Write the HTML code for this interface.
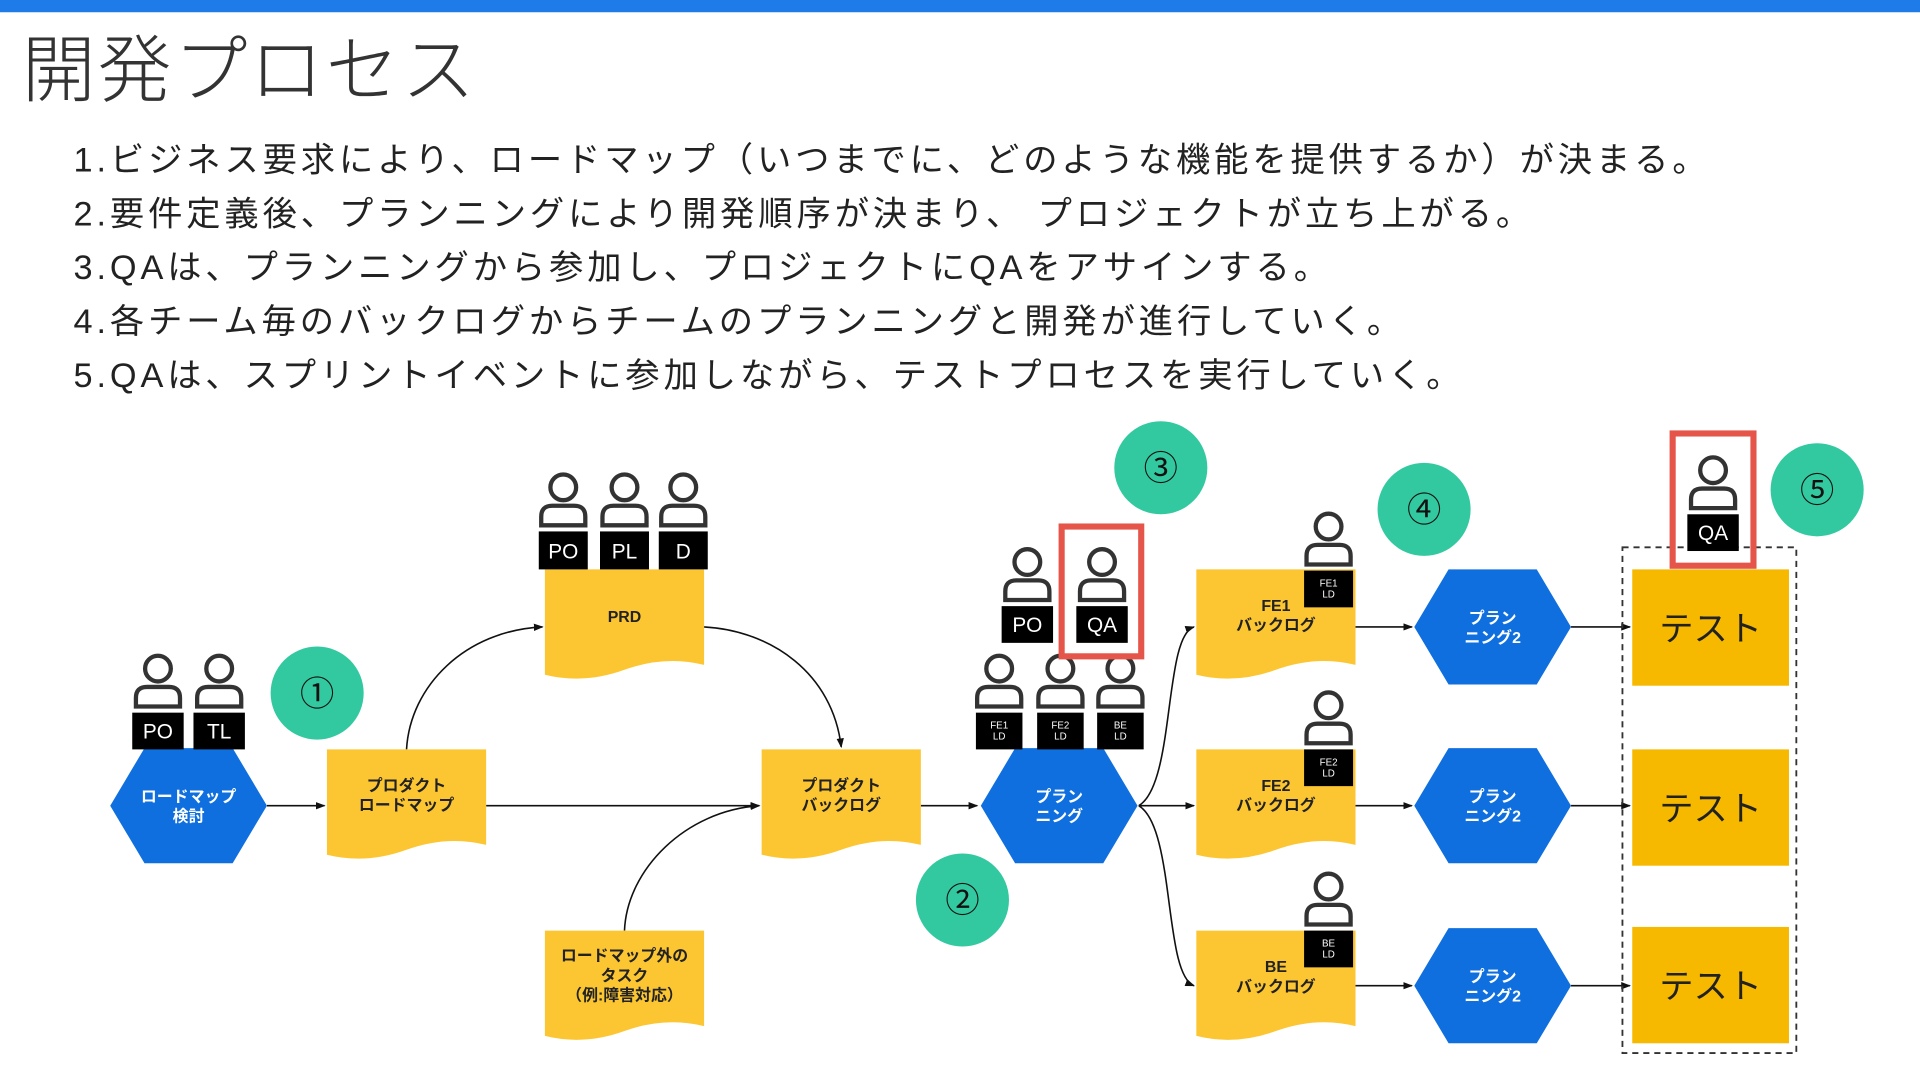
<!DOCTYPE html>
<html><head><meta charset="utf-8"><style>
html,body{margin:0;padding:0;background:#fff;width:1920px;height:1080px;overflow:hidden}
svg{display:block}
text{font-family:"Liberation Sans","Noto Sans CJK JP",sans-serif}
</style></head><body>
<svg width="1920" height="1080" viewBox="0 0 1568 882" xmlns="http://www.w3.org/2000/svg">
<defs>
<marker id="ar" markerWidth="8" markerHeight="8" refX="7" refY="4" orient="auto" markerUnits="userSpaceOnUse"><path d="M0,1 L8,4 L0,7 z" fill="#111"/></marker>
<g id="person"><circle cx="0" cy="-36" r="10.5" fill="none" stroke="#333" stroke-width="3.5"/><path d="M-18,-5 L-18,-12 Q-18,-21 -9,-21 L9,-21 Q18,-21 18,-12 L18,-5 Z" fill="none" stroke="#333" stroke-width="3.5"/></g>
<g id="hex"><polygon points="-64,0 -36,-47 36,-47 64,0 36,47 -36,47" fill="#0f6fdf"/></g>
<g id="doc"><path d="M0,0 H130 V78 Q98,70 65,82 Q32,94 0,86 Z" fill="#fcc633"/></g>
</defs>
<rect x="0" y="0" width="1568" height="10" fill="#1e7be8"/>
<text x="18" y="78" font-size="60" fill="#333" font-weight="300" letter-spacing="2">開発プロセス</text>
<g font-size="28" fill="#222" letter-spacing="3.2">
<text x="60" y="140">1.ビジネス要求により、ロードマップ（いつまでに、どのような機能を提供するか）が決まる。</text>
<text x="60" y="184">2.要件定義後、プランニングにより開発順序が決まり、 プロジェクトが立ち上がる。</text>
<text x="60" y="228">3.QAは、プランニングから参加し、プロジェクトにQAをアサインする。</text>
<text x="60" y="272">4.各チーム毎のバックログからチームのプランニングと開発が進行していく。</text>
<text x="60" y="316">5.QAは、スプリントイベントに参加しながら、テストプロセスを実行していく。</text>
</g>
<g fill="none" stroke="#111" stroke-width="1.3" marker-end="url(#ar)">
<line x1="218" y1="658" x2="265" y2="658"/>
<line x1="397" y1="658" x2="620" y2="658"/>
<path d="M332,612 C335,560 380,515 443,512"/>
<path d="M575,512 C630,515 680,550 687,610"/>
<path d="M510,760 C512,710 560,662 620,658"/>
<line x1="752" y1="658" x2="798" y2="658"/>
<path d="M930,658 C960,640 950,520 975,512"/>
<line x1="930" y1="658" x2="975" y2="658"/>
<path d="M930,658 C960,676 950,795 975,805"/>
<line x1="1107" y1="512" x2="1153" y2="512"/>
<line x1="1107" y1="658" x2="1153" y2="658"/>
<line x1="1107" y1="805" x2="1153" y2="805"/>
<line x1="1283" y1="512" x2="1331" y2="512"/>
<line x1="1283" y1="658" x2="1331" y2="658"/>
<line x1="1283" y1="805" x2="1331" y2="805"/>
</g>
<use href="#hex" x="154" y="658"/>
<use href="#hex" x="865" y="658"/>
<use href="#hex" x="1219" y="512"/>
<use href="#hex" x="1219" y="658"/>
<use href="#hex" x="1219" y="805"/>
<g fill="#fff" font-size="13" text-anchor="middle" font-weight="bold">
<text x="154" y="655">ロードマップ</text><text x="154" y="671">検討</text>
<text x="865" y="655">プラン</text><text x="865" y="671">ニング</text>
<text x="1219" y="509">プラン</text><text x="1219" y="525">ニング2</text>
<text x="1219" y="655">プラン</text><text x="1219" y="671">ニング2</text>
<text x="1219" y="802">プラン</text><text x="1219" y="818">ニング2</text>
</g>
<use href="#doc" x="267" y="612"/>
<use href="#doc" x="445" y="465"/>
<use href="#doc" x="622" y="612"/>
<use href="#doc" x="445" y="760"/>
<use href="#doc" x="977" y="465"/>
<use href="#doc" x="977" y="612"/>
<use href="#doc" x="977" y="760"/>
<g fill="#222" font-size="13" text-anchor="middle" font-weight="bold">
<text x="332" y="646">プロダクト</text><text x="332" y="662">ロードマップ</text>
<text x="510" y="508">PRD</text>
<text x="687" y="646">プロダクト</text><text x="687" y="662">バックログ</text>
<text x="510" y="785">ロードマップ外の</text><text x="510" y="801">タスク</text><text x="510" y="817">（例:障害対応）</text>
<text x="1042" y="499">FE1</text><text x="1042" y="515">バックログ</text>
<text x="1042" y="646">FE2</text><text x="1042" y="662">バックログ</text>
<text x="1042" y="794">BE</text><text x="1042" y="810">バックログ</text>
</g>
<rect x="1325" y="447" width="142" height="413" fill="none" stroke="#333" stroke-width="1.5" stroke-dasharray="5,4"/>
<g fill="#f7b900"><rect x="1333" y="465" width="128" height="95"/><rect x="1333" y="612" width="128" height="95"/><rect x="1333" y="757" width="128" height="95"/></g>
<g fill="#222" font-size="28" text-anchor="middle"><text x="1397" y="523">テスト</text><text x="1397" y="670">テスト</text><text x="1397" y="815">テスト</text></g>
<g>
<use href="#person" x="129" y="582"/><use href="#person" x="179" y="582"/>
<rect x="108" y="582" width="42" height="30" fill="#000"/><rect x="158" y="582" width="42" height="30" fill="#000"/>
<use href="#person" x="460" y="434"/><use href="#person" x="510" y="434"/><use href="#person" x="558" y="434"/>
<rect x="440" y="434" width="40" height="31" fill="#000"/><rect x="490" y="434" width="40" height="31" fill="#000"/><rect x="538" y="434" width="40" height="31" fill="#000"/>
<use href="#person" x="839" y="495"/><use href="#person" x="900" y="495"/>
<rect x="818" y="495" width="42" height="30" fill="#000"/><rect x="879" y="495" width="42" height="30" fill="#000"/>
<use href="#person" x="816" y="582"/><use href="#person" x="866" y="582"/><use href="#person" x="915" y="582"/>
<rect x="797" y="582" width="38" height="30" fill="#000"/><rect x="847" y="582" width="38" height="30" fill="#000"/><rect x="896" y="582" width="38" height="30" fill="#000"/>
<use href="#person" x="1085" y="466"/><rect x="1065" y="466" width="40" height="30" fill="#000"/>
<use href="#person" x="1085" y="612"/><rect x="1065" y="612" width="40" height="30" fill="#000"/>
<use href="#person" x="1085" y="760"/><rect x="1065" y="760" width="40" height="30" fill="#000"/>
<use href="#person" x="1399" y="420"/><rect x="1378" y="420" width="42" height="30" fill="#000"/>
</g>
<g fill="#fff" font-size="17" text-anchor="middle">
<text x="129" y="603">PO</text><text x="179" y="603">TL</text>
<text x="460" y="456">PO</text><text x="510" y="456">PL</text><text x="558" y="456">D</text>
<text x="839" y="516">PO</text><text x="900" y="516">QA</text>
<text x="1399" y="441">QA</text>
</g>
<g fill="#fff" font-size="8" text-anchor="middle">
<text x="816" y="595">FE1</text><text x="816" y="604">LD</text>
<text x="866" y="595">FE2</text><text x="866" y="604">LD</text>
<text x="915" y="595">BE</text><text x="915" y="604">LD</text>
<text x="1085" y="479">FE1</text><text x="1085" y="488">LD</text>
<text x="1085" y="625">FE2</text><text x="1085" y="634">LD</text>
<text x="1085" y="773">BE</text><text x="1085" y="782">LD</text>
</g>
<rect x="867" y="430" width="65" height="106" fill="none" stroke="#e5554a" stroke-width="5"/>
<rect x="1366" y="354" width="66" height="108" fill="none" stroke="#e5554a" stroke-width="5"/>
<g fill="#33c9a0"><circle cx="259" cy="566" r="38"/><circle cx="786" cy="735" r="38"/><circle cx="948" cy="382" r="38"/><circle cx="1163" cy="416" r="38"/><circle cx="1484" cy="400" r="38"/></g>
<g fill="#111" font-size="28" text-anchor="middle">
<text x="259" y="576">①</text><text x="786" y="745">②</text><text x="948" y="392">③</text><text x="1163" y="426">④</text><text x="1484" y="410">⑤</text>
</g>
</svg>
</body></html>
